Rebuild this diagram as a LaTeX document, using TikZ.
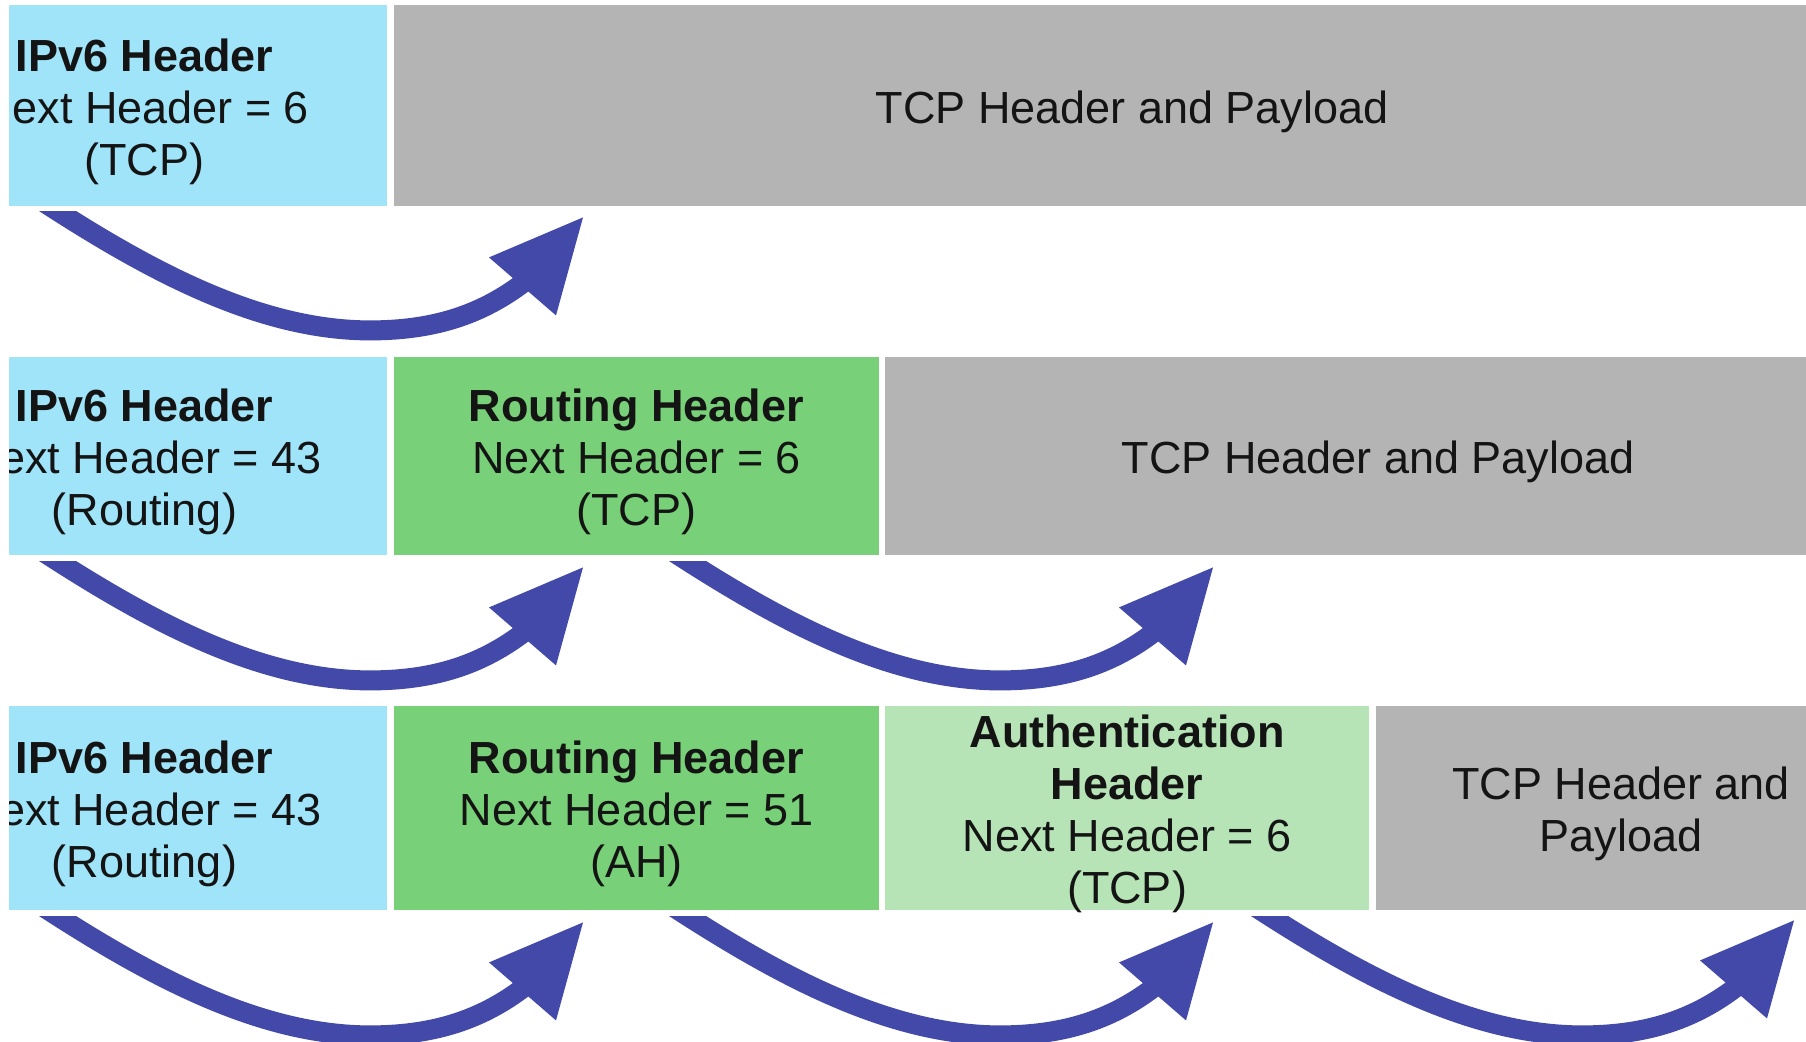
\documentclass[tikz,border=0pt]{standalone}
\usepackage{fontspec}
\setmainfont{Liberation Sans}
\usetikzlibrary{calc}
\definecolor{ipvsix}{RGB}{160,228,250}
\definecolor{routing}{RGB}{120,208,120}
\definecolor{authh}{RGB}{182,228,182}
\definecolor{tcpgray}{RGB}{180,180,180}
\definecolor{arrowblue}{RGB}{67,73,168}
\newcommand\hdrarrow[2]{%
  \begin{scope}
    \clip ($(#1)+(-80,0)$) rectangle ($(#2)+(40,140)$);
    \draw[shaft] ($(#1)+(-17,-11)$) .. controls ($(#1)+(92,60)$) and ($(#1)+(202,119)$) .. ($(#1)+(312,119)$)
       .. controls ($(#1)+(382,119)$) and ($(#1)+(432,100)$) .. ($(#1)+(477,62)$);
    \fill[arrowblue] (#2) -- ++(-94,40) -- ++(67,58) -- cycle;
  \end{scope}}
\begin{document}
\begin{tikzpicture}[x=0.5pt,y=-0.5pt,
  box/.style={draw=none, inner sep=0pt},
  txt/.style={align=center, inner sep=0pt, yshift=-3pt,
    font=\fontsize{22.5pt}{26pt}\selectfont, text=black!92},
  shaft/.style={draw=arrowblue, line width=10pt}]
\useasboundingbox (0,0) rectangle (1806,1041);
\fill[white] (0,0) rectangle (1806,1041);
\clip (9,0) rectangle (1806,1041);

% Row 1
\node[box, fill=ipvsix, minimum width=242.5pt, minimum height=100.5pt,
  label={[txt]center:{\textbf{IPv6 Header}\\Next Header = 6\\(TCP)}}] (r1ip) at (144.5,105.5) {};
\node[box, fill=tcpgray, minimum width=738pt, minimum height=100.5pt,
  label={[txt]center:{TCP Header and Payload}}] (r1tcp) at (1132,105.5) {};

% Row 2
\node[box, fill=ipvsix, minimum width=242.5pt, minimum height=99pt,
  label={[txt]center:{\textbf{IPv6 Header}\\Next Header = 43\\(Routing)}}] (r2ip) at (144.5,456) {};
\node[box, fill=routing, minimum width=242.5pt, minimum height=99pt,
  label={[txt]center:{\textbf{Routing Header}\\Next Header = 6\\(TCP)}}] (r2rt) at (636.5,456) {};
\node[box, fill=tcpgray, minimum width=493pt, minimum height=99pt,
  label={[txt]center:{TCP Header and Payload}}] (r2tcp) at (1378,456) {};

% Row 3
\node[box, fill=ipvsix, minimum width=242.5pt, minimum height=102pt,
  label={[txt]center:{\textbf{IPv6 Header}\\Next Header = 43\\(Routing)}}] (r3ip) at (144.5,808) {};
\node[box, fill=routing, minimum width=242.5pt, minimum height=102pt,
  label={[txt]center:{\textbf{Routing Header}\\Next Header = 51\\(AH)}}] (r3rt) at (636.5,808) {};
\node[box, fill=authh, minimum width=242pt, minimum height=102pt,
  label={[txt]center:{\textbf{Authentication}\\\textbf{Header}\\Next Header = 6\\(TCP)}}] (r3ah) at (1127,808) {};
\node[box, fill=tcpgray, minimum width=245pt, minimum height=102pt,
  label={[txt]center:{TCP Header and\\Payload}}] (r3tcp) at (1621,808) {};

% Arrow anchor coordinates
\coordinate (a11s) at ($(r1ip.south -| 58,0)+(0,5)$);
\coordinate (a11t) at ($(a11s)+(525,6)$);
\coordinate (a21s) at ($(r2ip.south -| 58,0)+(0,6)$);
\coordinate (a21t) at ($(a21s)+(525,6)$);
\coordinate (a22s) at ($(r2rt.south -| 688,0)+(0,6)$);
\coordinate (a22t) at ($(a22s)+(525,6)$);
\coordinate (a31s) at ($(r3ip.south -| 58,0)+(0,6)$);
\coordinate (a31t) at ($(a31s)+(525,6)$);
\coordinate (a32s) at ($(r3rt.south -| 688,0)+(0,6)$);
\coordinate (a32t) at ($(a32s)+(525,6)$);
\coordinate (a33s) at ($(r3ah.south -| 1270,0)+(0,6)$);
\coordinate (a33t) at ($(a33s)+(524,4)$);

\hdrarrow{a11s}{a11t}
\hdrarrow{a21s}{a21t}
\hdrarrow{a22s}{a22t}
\hdrarrow{a31s}{a31t}
\hdrarrow{a32s}{a32t}
\hdrarrow{a33s}{a33t}
\end{tikzpicture}
\end{document}
